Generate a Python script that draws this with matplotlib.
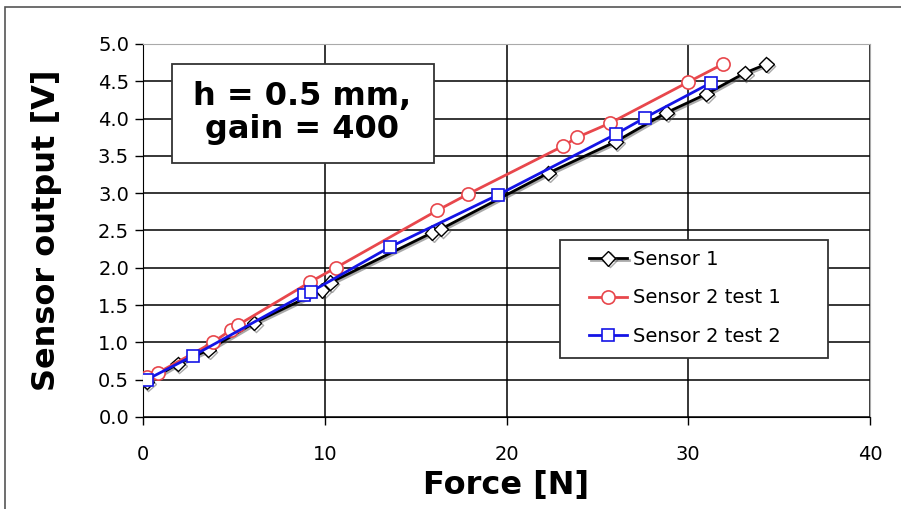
import matplotlib
matplotlib.use("Agg")
import matplotlib.pyplot as plt
import matplotlib.patheffects as pe
from matplotlib.patches import Rectangle

# Data
s1_x = [0.2, 1.9, 3.6, 6.1, 9.85, 10.3, 15.9, 16.4, 22.3, 26.0, 28.8, 31.0, 33.1, 34.3]
s1_y = [0.47, 0.71, 0.90, 1.26, 1.70, 1.80, 2.47, 2.52, 3.27, 3.69, 4.08, 4.33, 4.61, 4.73]

t1_x = [0.2, 0.8, 3.85, 4.85, 5.2, 9.2, 10.6, 16.2, 17.9, 23.1, 23.9, 25.7, 30.0, 31.9]
t1_y = [0.54, 0.59, 1.00, 1.17, 1.23, 1.81, 2.00, 2.77, 2.99, 3.63, 3.75, 3.94, 4.49, 4.73]

t2_x = [0.2, 2.75, 8.85, 9.25, 13.6, 19.55, 26.0, 27.6, 31.25]
t2_y = [0.50, 0.82, 1.64, 1.68, 2.28, 2.98, 3.79, 4.01, 4.48]

x_ticks = [0, 10, 20, 30, 40]
y_ticks = [0.0, 0.5, 1.0, 1.5, 2.0, 2.5, 3.0, 3.5, 4.0, 4.5, 5.0]

plt.rcParams['font.family'] = ['DejaVu Sans']

W, H = 901, 509
fig = plt.figure(figsize=(W / 100, H / 100), dpi=100)
fig.patch.set_facecolor('white')
# outer frame (cut off at right/bottom)
fig.patches.append(Rectangle((5 / W, -0.05), 1.2, 1 - 7 / H + 0.05, transform=fig.transFigure,
                             fill=False, edgecolor='#555555', linewidth=1.2))

ax_l, ax_r, ax_t, ax_b = 143, 870, 44, 417
ax = fig.add_axes([ax_l / W, 1 - ax_b / H, (ax_r - ax_l) / W, (ax_b - ax_t) / H])
aw, ah = ax_r - ax_l, ax_b - ax_t


def axc(px, py):
    return (px - ax_l) / aw, (ax_b - py) / ah


red = '#e8474c'
blue = '#1414e6'
shadow = [pe.SimpleLineShadow(offset=(1.2, -1.2), shadow_color='#555555', alpha=0.5), pe.Normal()]
ax.plot(s1_x, s1_y, color='black', lw=2.0, marker='D', ms=7.5, mfc='white', mec='black', mew=1.0,
        label='Sensor 1', zorder=3, path_effects=shadow)
ax.plot(t1_x, t1_y, color=red, lw=2.0, marker='o', ms=9.5, mfc='white', mec=red, mew=1.2,
        label='Sensor 2 test 1', zorder=4)
ax.plot(t2_x, t2_y, color=blue, lw=2.0, marker='s', ms=8, mfc='white', mec=blue, mew=1.2,
        label='Sensor 2 test 2', zorder=5)

ax.set_xlim(0, 40)
ax.set_ylim(0, 5)
ax.set_xticks(x_ticks)
ax.set_yticks(y_ticks)
ax.set_yticklabels([f"{v:.1f}" for v in y_ticks])
ax.tick_params(axis='both', direction='out', length=6, width=1, labelsize=14, colors='black', pad=4)
ax.tick_params(axis='x', pad=14)
ax.grid(True, color='black', lw=1.1)
ax.set_axisbelow(True)
for side in ['top', 'right']:
    ax.spines[side].set_color('#aaaaaa')
for side in ['left', 'bottom']:
    ax.spines[side].set_color('black')

ax.set_xlabel('Force [N]', fontsize=23, fontweight='bold')
ax.set_ylabel('Sensor output [V]', fontsize=23, fontweight='bold')
ax.xaxis.set_label_coords(0.5, axc(0, 470)[1])
ax.yaxis.set_label_coords(axc(62, 0)[0], 0.5)

# annotation box
bx0, by0 = axc(172, 163)
bx1, by1 = axc(434, 64)
ax.add_patch(Rectangle((bx0, by0), bx1 - bx0, by1 - by0, transform=ax.transAxes,
                       facecolor='white', edgecolor='#333333', lw=1.3, zorder=6))
tx, ty = axc(302, 113)
ax.text(tx, ty, 'h = 0.5 mm,\ngain = 400', transform=ax.transAxes, ha='center', va='center',
        fontsize=23, fontweight='bold', linespacing=1.1, zorder=7)

# legend frame + legend
lx0, ly0 = axc(560, 358)
lx1, ly1 = axc(828, 240)
ax.add_patch(Rectangle((lx0, ly0), lx1 - lx0, ly1 - ly0, transform=ax.transAxes,
                       facecolor='white', edgecolor='#333333', lw=1.3, zorder=6))
lgx, lgy = axc(589, 250)
leg = ax.legend(loc='upper left', bbox_to_anchor=(lgx, lgy), fontsize=14, frameon=False,
                handlelength=1.95, borderpad=0, labelspacing=1.0, handletextpad=0.3,
                borderaxespad=0)
leg.set_zorder(8)

fig.savefig('out.png', dpi=100)
